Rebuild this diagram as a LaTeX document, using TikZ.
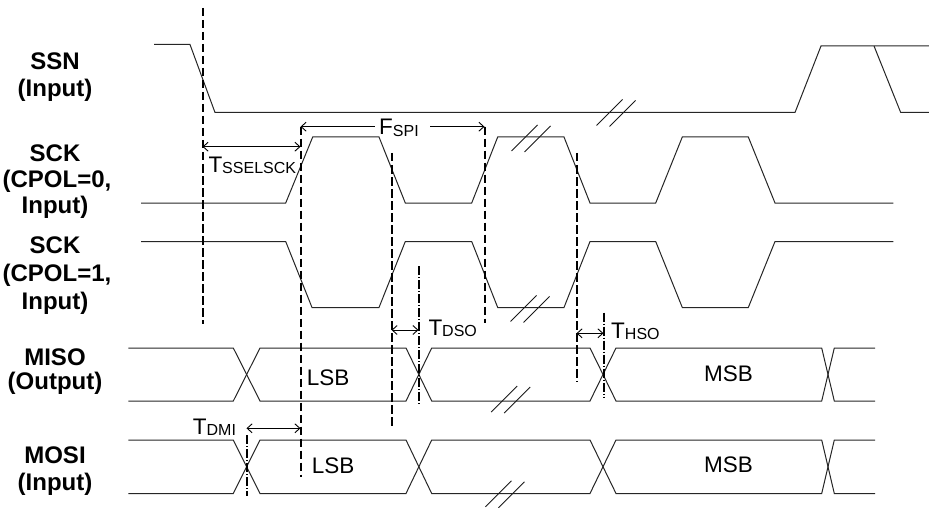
\documentclass[tikz,border=0pt]{standalone}
\usepackage{fontspec}
\setmainfont{Liberation Sans}
\usetikzlibrary{arrows.meta}
\newcommand{\tsub}[1]{\raisebox{-1.5pt}{\fontsize{16}{16}\selectfont #1}}
\tikzset{
  trace/.style={draw=black!85, line width=1pt, line join=miter},
  guide/.style={draw=black, line width=2pt, dash pattern=on 8.5pt off 3.5pt},
  guidedot/.style={draw=black, line width=2pt, dash pattern=on 9pt off 2pt on 1pt off 2pt},
  dim/.style={draw=black, line width=0.9pt, {Straight Barb[length=5pt,width=9pt]}-{Straight Barb[length=5pt,width=9pt]}},
  halfdimL/.style={draw=black, line width=0.9pt, {Straight Barb[length=5pt,width=9pt]}-},
  halfdimR/.style={draw=black, line width=0.9pt, -{Straight Barb[length=5pt,width=9pt]}},
  brk/.style={draw=black!90, line width=0.9pt},
  lbl/.style={inner sep=0pt, anchor=base west, font=\fontsize{22.5}{26}\selectfont},
  sig/.style={inner sep=0pt, anchor=base, font=\fontsize{24}{28}\selectfont\bfseries},
  pics/breakmark/.style={code={
    \draw[brk] (-19.5,13) -- (6.5,-13);
    \draw[brk] (-6.5,14) -- (19.5,-12);
  }}
}
\begin{document}
\begin{tikzpicture}[x=1pt,y=-1pt]
\useasboundingbox (0,0) rectangle (929,508);

% ---------- signal names ----------
\node[sig] (ssn1) at (55,69.3) {SSN};
\node[sig] (ssn2) at (55,96.7) {(Input)};
\node[sig] (ck01) at (55,161.7) {SCK};
\node[sig] (ck02) at (57,187) {(CPOL=0,};
\node[sig] (ck03) at (55,213.3) {Input)};
\node[sig] (ck11) at (55,253.3) {SCK};
\node[sig] (ck12) at (57,281.7) {(CPOL=1,};
\node[sig] (ck13) at (55,309.3) {Input)};
\node[sig] (mi1) at (55,365.7) {MISO};
\node[sig] (mi2) at (55,389.5) {(Output)};
\node[sig] (mo1) at (55,463.3) {MOSI};
\node[sig] (mo2) at (55,490) {(Input)};

% ---------- SSN ----------
\draw[trace] (154,44.5) -- (190,44.5) -- (215,112.5) -- (795,112.5) -- (821,46) -- (929,46);
\draw[trace] (874,46) -- (900.7,112.5) -- (929,112.5);
\pic at (616,112.5) {breakmark};

% ---------- SCK CPOL=0 ----------
\draw[trace] (141,203) -- (285.7,203) -- (312.7,137) -- (379,137) -- (405.3,203)
  -- (471.7,203) -- (497.7,137) -- (564,137) -- (590,203)
  -- (655.7,203) -- (682.3,137) -- (748.3,137) -- (775,203) -- (893.3,203);
\pic at (531,138) {breakmark};

% ---------- SCK CPOL=1 ----------
\draw[trace] (141,241.5) -- (285.7,241.5) -- (312,307.5) -- (379,307.5) -- (405.3,241.5)
  -- (471.7,241.5) -- (497.7,307.5) -- (564,307.5) -- (590,241.5)
  -- (655.7,241.5) -- (682.3,307.5) -- (748.3,307.5) -- (775,241.5) -- (893.3,241.5);
\pic at (530,308.5) {breakmark};

% ---------- MISO ----------
\draw[trace] (128.3,348) -- (233.3,348) -- (260,401) -- (406,401) -- (431.7,348) -- (590,348)
  -- (616,401) -- (821.7,401) -- (834.3,348) -- (875,348);
\draw[trace] (128.3,401) -- (233.3,401) -- (260,348) -- (406,348) -- (431.7,401) -- (590,401)
  -- (616,348) -- (821.7,348) -- (834.3,401) -- (875,401);
\pic at (510.7,399) {breakmark};
\node[lbl] (lsb1) at (306.7,385) {LSB};
\node[lbl] (msb1) at (704,381.7) {MSB};

% ---------- MOSI ----------
\draw[trace] (128.3,440) -- (233.3,440) -- (260,493.5) -- (406,493.5) -- (431.7,440) -- (590,440)
  -- (616,493.5) -- (821.7,493.5) -- (834.3,440) -- (875,440);
\draw[trace] (128.3,493.5) -- (233.3,493.5) -- (260,440) -- (406,440) -- (431.7,493.5) -- (590,493.5)
  -- (616,440) -- (821.7,440) -- (834.3,493.5) -- (875,493.5);
\pic at (505,493.8) {breakmark};
\node[lbl] (lsb2) at (311.7,473.3) {LSB};
\node[lbl] (msb2) at (704,472.7) {MSB};

% ---------- guide lines ----------
\coordinate (g1t) at (202.5,8);    \coordinate (g1b) at (202.5,324);
\coordinate (g2t) at (300.5,126.7);\coordinate (g2b) at (300.5,476.7);
\coordinate (g3t) at (391.5,153);  \coordinate (g3b) at (391.5,426);
\coordinate (g4t) at (484.5,126.7);\coordinate (g4b) at (484.5,323.3);
\coordinate (g5t) at (576.5,153);  \coordinate (g5b) at (576.5,381.7);
\coordinate (g6t) at (418.5,266);  \coordinate (g6b) at (418.5,405);
\coordinate (g7t) at (603.5,312.7);\coordinate (g7b) at (603.5,397.3);
\coordinate (g8t) at (246.5,435);  \coordinate (g8b) at (246.5,496);
\draw[guide] (g1t) -- (g1b);
\draw[guide] (g2t) -- (g2b);
\draw[guide] (g3t) -- (g3b);
\draw[guide] (g4t) -- (g4b);
\draw[guide] (g5t) -- (g5b);
\draw[guidedot] (g6t) -- (g6b);
\draw[guidedot] (g7t) -- (g7b);
\draw[guidedot] (g8t) -- (g8b);

% ---------- dimension arrows ----------
\coordinate (sA) at (202.5,146.7); \coordinate (sB) at (300.5,146.7);
\draw[dim] (sA) -- (sB);
\node[lbl] (tssel) at (208.3,172.3) {T\tsub{SSELSCK}};

\coordinate (fA) at (300.5,126.7); \coordinate (fB) at (484.5,126.7);
\node[lbl] (fspi) at (379,135) {F\tsub{SPI}};
\coordinate (fgl) at (375,126.7); \coordinate (fgr) at (430,126.7);
\draw[halfdimL] (fA) -- (fgl);
\draw[halfdimR] (fgr) -- (fB);

\coordinate (dA) at (391.5,330); \coordinate (dB) at (418.5,330);
\draw[dim] (dA) -- (dB);
\node[lbl] (tdso) at (428.3,335) {T\tsub{DSO}};

\coordinate (hA) at (576.5,333.3); \coordinate (hB) at (603.5,333.3);
\draw[dim] (hA) -- (hB);
\node[lbl] (thso) at (611,338) {T\tsub{HSO}};

\coordinate (mA) at (246.5,428.3); \coordinate (mB) at (300.5,428.3);
\draw[dim] (mA) -- (mB);
\node[lbl] (tdmi) at (192.7,434) {T\tsub{DMI}};
\end{tikzpicture}
\end{document}
